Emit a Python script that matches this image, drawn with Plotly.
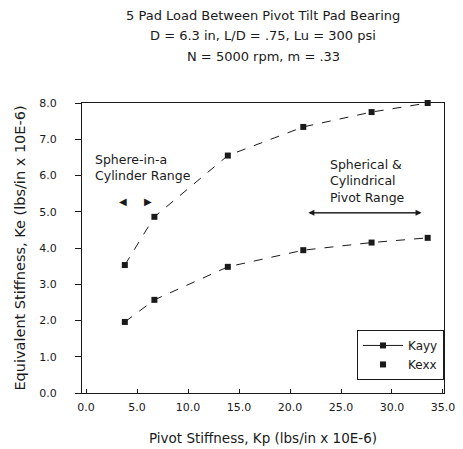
import plotly.graph_objects as go

# Data
kp = [3.8, 6.7, 13.9, 21.3, 28.0, 33.5]
kayy = [3.53, 4.86, 6.55, 7.34, 7.75, 8.0]
kexx = [1.96, 2.57, 3.48, 3.94, 4.15, 4.28]
x_ticks = [0, 5, 10, 15, 20, 25, 30, 35]
y_ticks = [0, 1, 2, 3, 4, 5, 6, 7, 8]
title_lines = [
    "5 Pad Load Between Pivot Tilt Pad Bearing",
    "D = 6.3 in, L/D = .75, Lu = 300 psi",
    "N = 5000 rpm, m = .33",
]

FONT = "DejaVu Sans, Liberation Sans, Arial, sans-serif"
INK = "#1a1a1a"

fig = go.Figure()
fig.add_trace(go.Scatter(
    x=kp, y=kayy, name="Kayy", mode="lines+markers", showlegend=False,
    line=dict(color=INK, width=1, dash="dash"),
    marker=dict(symbol="square", size=6, color=INK),
    cliponaxis=False,
))
# legend proxy for Kayy (solid line + marker in the legend, no data drawn)
fig.add_trace(go.Scatter(
    x=[None], y=[None], name="Kayy", mode="lines+markers",
    line=dict(color=INK, width=1),
    marker=dict(symbol="square", size=6, color=INK),
))
fig.add_trace(go.Scatter(
    x=kp, y=kexx, name="Kexx", mode="lines", showlegend=False,
    line=dict(color=INK, width=1, dash="dash"),
    cliponaxis=False,
))
fig.add_trace(go.Scatter(
    x=kp, y=kexx, name="Kexx", mode="markers",
    marker=dict(symbol="square", size=6, color=INK),
    cliponaxis=False,
))

# Title lines as annotations (paper coords relative to plot area)
title_y = [1.303, 1.234, 1.159]
annotations = [
    dict(x=0.5, y=ty, xref="paper", yref="paper", text=t, showarrow=False,
         xanchor="center", yanchor="middle",
         font=dict(family=FONT, size=13, color=INK))
    for t, ty in zip(title_lines, title_y)
]
annotations += [
    dict(x=0.7, y=6.23, xref="x", yref="y", text="Sphere-in-a<br>Cylinder Range",
         showarrow=False, xanchor="left", yanchor="middle", align="left",
         font=dict(family=FONT, size=12.5, color=INK)),
    dict(x=3.6, y=5.27, xref="x", yref="y", text="◀", showarrow=False,
         font=dict(family="DejaVu Sans", size=10, color=INK)),
    dict(x=6.1, y=5.27, xref="x", yref="y", text="▶", showarrow=False,
         font=dict(family="DejaVu Sans", size=10, color=INK)),
    dict(x=23.7, y=5.85, xref="x", yref="y", text="Spherical &<br>Cylindrical<br>Pivot Range",
         showarrow=False, xanchor="left", yanchor="middle", align="left",
         font=dict(family=FONT, size=12.5, color=INK)),
    dict(x=32.9, y=4.97, ax=21.8, ay=4.97, xref="x", yref="y", axref="x", ayref="y",
         text="", showarrow=True, arrowhead=2, arrowsize=1.2, arrowwidth=1, arrowcolor=INK),
    dict(x=21.8, y=4.97, ax=32.9, ay=4.97, xref="x", yref="y", axref="x", ayref="y",
         text="", showarrow=True, arrowhead=2, arrowsize=1.2, arrowwidth=1, arrowcolor=INK),
]

# page body has an 8px margin, so the figure is drawn 8px smaller and shifted
fig.update_layout(
    width=455, height=441,
    margin=dict(l=74, r=19, t=95, b=56),
    paper_bgcolor="white", plot_bgcolor="white",
    font=dict(family=FONT, size=11, color=INK),
    showlegend=True,
    legend=dict(x=1.0, y=0.045, xanchor="right", yanchor="bottom",
                bordercolor=INK, borderwidth=1, bgcolor="white",
                font=dict(family=FONT, size=12, color=INK),
                tracegroupgap=0, itemwidth=40),
    annotations=annotations,
)
fig.update_xaxes(
    range=[-0.4, 35.1], tickvals=x_ticks, tickformat=".1f", automargin=False,
    showgrid=False, zeroline=False, showline=True, linecolor=INK, linewidth=1,
    mirror=True, ticks="inside", ticklen=4, tickcolor=INK,
    tickfont=dict(family=FONT, size=11), ticklabelstandoff=4,
    title=dict(text="Pivot Stiffness, Kp (lbs/in x 10E-6)", font=dict(family=FONT, size=13.5), standoff=20),
)
fig.update_yaxes(
    range=[0, 8], tickvals=y_ticks, tickformat=".1f", automargin=False,
    showgrid=False, zeroline=False, showline=True, linecolor=INK, linewidth=1,
    mirror=True, ticks="outside", ticklen=6, tickcolor=INK,
    tickfont=dict(family=FONT, size=11), ticklabelstandoff=16,
    title=dict(text="Equivalent Stiffness, Ke (lbs/in x 10E-6)", font=dict(family=FONT, size=14.5), standoff=10),
)

fig.write_html("out.html")
